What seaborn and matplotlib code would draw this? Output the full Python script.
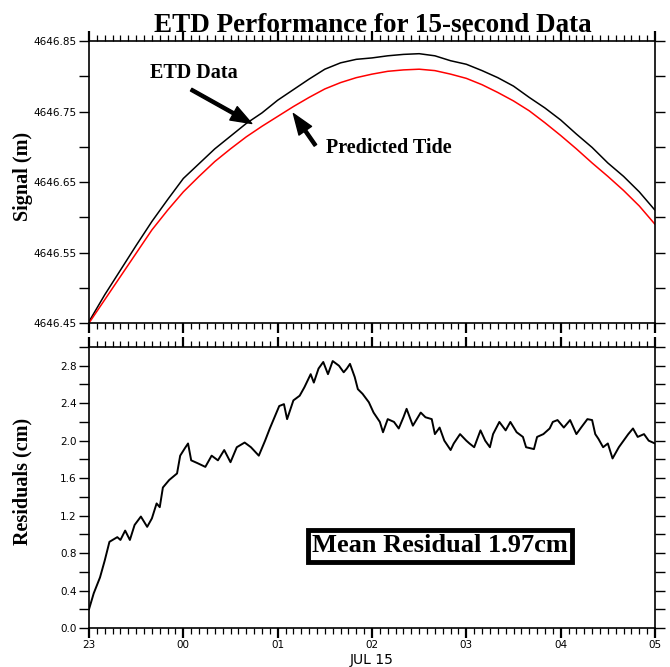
import numpy as np
import pandas as pd
import matplotlib
matplotlib.use("Agg")
import matplotlib.pyplot as plt
import seaborn as sns
from matplotlib.ticker import MultipleLocator

# ----------------------------
# ETD performance, 15-second data (Jul 14 23:00 -> Jul 15 05:00)
# x values are minutes after 23:00
# ----------------------------

tide_minutes = [0, 10, 20, 30, 40, 50, 60, 70, 80, 90, 100, 110, 120, 130,
                140, 150, 160, 170, 180, 190, 200, 210, 220, 230, 240, 250,
                260, 270, 280, 290, 300, 310, 320, 330, 340, 350, 360]
predicted_tide = [4646.450, 4646.483, 4646.516, 4646.549, 4646.582, 4646.610,
                  4646.636, 4646.658, 4646.679, 4646.697, 4646.714, 4646.729,
                  4646.743, 4646.757, 4646.770, 4646.782, 4646.791, 4646.798,
                  4646.803, 4646.807, 4646.809, 4646.810, 4646.808, 4646.803,
                  4646.797, 4646.788, 4646.777, 4646.765, 4646.751, 4646.734,
                  4646.716, 4646.697, 4646.677, 4646.658, 4646.638, 4646.616,
                  4646.590]
etd_data = [4646.452, 4646.490, 4646.525, 4646.560, 4646.594, 4646.625,
            4646.655, 4646.676, 4646.697, 4646.715, 4646.733, 4646.748,
            4646.766, 4646.781, 4646.796, 4646.810, 4646.819, 4646.824,
            4646.826, 4646.829, 4646.831, 4646.832, 4646.829, 4646.822,
            4646.817, 4646.808, 4646.798, 4646.786, 4646.770, 4646.755,
            4646.738, 4646.718, 4646.699, 4646.677, 4646.658, 4646.636,
            4646.610]

resid_minutes = [0, 3, 7, 10, 13, 18, 20, 23, 26, 29, 33, 37, 40, 43, 45, 47,
                 51, 56, 58, 61, 63, 65, 69, 74, 78, 82, 86, 90, 94, 99, 103,
                 108, 112, 115, 118, 121, 124, 126, 130, 134, 137, 141, 143,
                 146, 149, 152, 155, 159, 162, 164, 166, 169, 171, 174, 178,
                 181, 185, 187, 190, 194, 197, 200, 202, 206, 211, 214, 218,
                 220, 223, 226, 230, 232, 236, 240, 242, 245, 249, 252, 255,
                 257, 261, 265, 268, 272, 276, 278, 283, 285, 289, 293, 295,
                 298, 302, 306, 310, 313, 317, 320, 322, 324, 327, 330, 333,
                 337, 340, 343, 346, 349, 353, 356, 360]
residuals = [0.20, 0.37, 0.54, 0.72, 0.92, 0.97, 0.94, 1.04, 0.94, 1.10, 1.19,
             1.08, 1.17, 1.33, 1.29, 1.50, 1.58, 1.65, 1.84, 1.92, 1.97, 1.79,
             1.76, 1.72, 1.84, 1.79, 1.90, 1.77, 1.93, 1.98, 1.93, 1.84, 2.00,
             2.13, 2.25, 2.37, 2.39, 2.23, 2.43, 2.48, 2.57, 2.71, 2.62, 2.77,
             2.84, 2.71, 2.85, 2.80, 2.73, 2.77, 2.82, 2.68, 2.55, 2.50, 2.41,
             2.30, 2.20, 2.09, 2.23, 2.20, 2.13, 2.25, 2.34, 2.16, 2.30, 2.25,
             2.23, 2.07, 2.14, 2.00, 1.90, 1.97, 2.07, 2.00, 1.97, 1.93, 2.11,
             2.00, 1.93, 2.07, 2.20, 2.11, 2.20, 2.09, 2.04, 1.93, 1.91, 2.04,
             2.07, 2.13, 2.20, 2.22, 2.14, 2.22, 2.07, 2.14, 2.23, 2.22, 2.07,
             2.02, 1.93, 1.97, 1.81, 1.93, 2.00, 2.07, 2.13, 2.04, 2.07, 2.00,
             1.97]

hour_ticks = [0, 60, 120, 180, 240, 300, 360]
hour_labels = ["23", "00", "01", "02", "03", "04", "05"]
signal_ticks = [4646.45, 4646.50, 4646.55, 4646.60, 4646.65, 4646.70,
                4646.75, 4646.80, 4646.85]
signal_labels = ["4646.45", "", "4646.55", "", "4646.65", "", "4646.75", "",
                 "4646.85"]
resid_ticks = [0.0, 0.2, 0.4, 0.6, 0.8, 1.0, 1.2, 1.4, 1.6, 1.8, 2.0, 2.2,
               2.4, 2.6, 2.8, 3.0]
resid_labels = ["0.0", "", "0.4", "", "0.8", "", "1.2", "", "1.6", "",
                "2.0", "", "2.4", "", "2.8", ""]

tide_df = pd.DataFrame({"minutes": tide_minutes,
                        "predicted": predicted_tide,
                        "etd": etd_data})
resid_df = pd.DataFrame({"minutes": resid_minutes, "residual": residuals})

sns.set_style("ticks")
plt.rcParams["font.family"] = ["DejaVu Sans"]
plt.rcParams["text.color"] = "black"
plt.rcParams["axes.labelcolor"] = "black"
plt.rcParams["xtick.color"] = "black"
plt.rcParams["ytick.color"] = "black"
serif = ["Liberation Serif", "DejaVu Serif"]

fig = plt.figure(figsize=(6.7, 6.67), dpi=100)
ax1 = fig.add_axes([89 / 670, 1 - 323 / 667, 566 / 670, 282 / 667])
ax2 = fig.add_axes([89 / 670, 1 - 628 / 667, 566 / 670, 281 / 667])

# top panel: signal
sns.lineplot(data=tide_df, x="minutes", y="etd", ax=ax1, color="black",
             linewidth=1.1)
sns.lineplot(data=tide_df, x="minutes", y="predicted", ax=ax1, color="red",
             linewidth=1.1)
ax1.set_ylim(4646.45, 4646.85)
ax1.set_yticks(signal_ticks)
ax1.set_yticklabels(signal_labels)
ax1.set_ylabel("Signal (m)", family=serif, fontweight="bold", fontsize=14.5)

ax1.annotate("", xy=(103.5, 4646.733), xytext=(65, 4646.781),
             arrowprops=dict(facecolor="black", edgecolor="black", width=2.2,
                             headwidth=11, headlength=15, shrink=0))
ax1.text(67, 4646.805, "ETD Data", family=serif, fontweight="bold",
         fontsize=14.5, ha="center", va="center")
ax1.annotate("", xy=(130, 4646.747), xytext=(144, 4646.702),
             arrowprops=dict(facecolor="black", edgecolor="black", width=2.2,
                             headwidth=11, headlength=15, shrink=0))
ax1.text(190.5, 4646.698, "Predicted Tide", family=serif, fontweight="bold",
         fontsize=14.5, ha="center", va="center")

# bottom panel: residuals
sns.lineplot(data=resid_df, x="minutes", y="residual", ax=ax2, color="black",
             linewidth=1.4)
ax2.set_ylim(0, 3.0)
ax2.set_yticks(resid_ticks)
ax2.set_yticklabels(resid_labels)
ax2.set_ylabel("Residuals (cm)", family=serif, fontweight="bold",
               fontsize=14.5)
ax2.text(0.62, 0.292, "Mean Residual 1.97cm", transform=ax2.transAxes,
         family=serif, fontweight="bold", fontsize=19, ha="center",
         va="center",
         bbox=dict(boxstyle="square,pad=0.17", facecolor="white",
                   edgecolor="black", linewidth=3.5))

for ax in (ax1, ax2):
    ax.set_xlim(0, 360)
    ax.set_xticks(hour_ticks)
    ax.xaxis.set_minor_locator(MultipleLocator(5))
    ax.tick_params(axis="x", which="major", direction="out", length=7,
                   width=1.6, top=True, bottom=True, labelsize=7.5, pad=2)
    ax.tick_params(axis="x", which="minor", direction="out", length=4,
                   width=0.9, top=True, bottom=True)
    ax.tick_params(axis="y", which="major", direction="out", length=7,
                   width=1.0, left=True, right=True, labelsize=7.5, pad=2)
    for s in ax.spines.values():
        s.set_visible(True)
        s.set_linewidth(1.2)
        s.set_color("black")
    ax.set_facecolor("white")
    ax.yaxis.set_label_coords(-0.099, 0.52)

ax1.set_xticklabels([])
ax1.set_xlabel("")
ax2.set_xticklabels(hour_labels)
ax2.set_xlabel("JUL 15", fontsize=10, labelpad=2)

fig.text(0.557, 1 - 32 / 667, "ETD Performance for 15-second Data",
         family=serif, fontweight="bold", fontsize=19.5, ha="center",
         va="baseline")

fig.savefig("out.png", dpi=100, facecolor="white")
